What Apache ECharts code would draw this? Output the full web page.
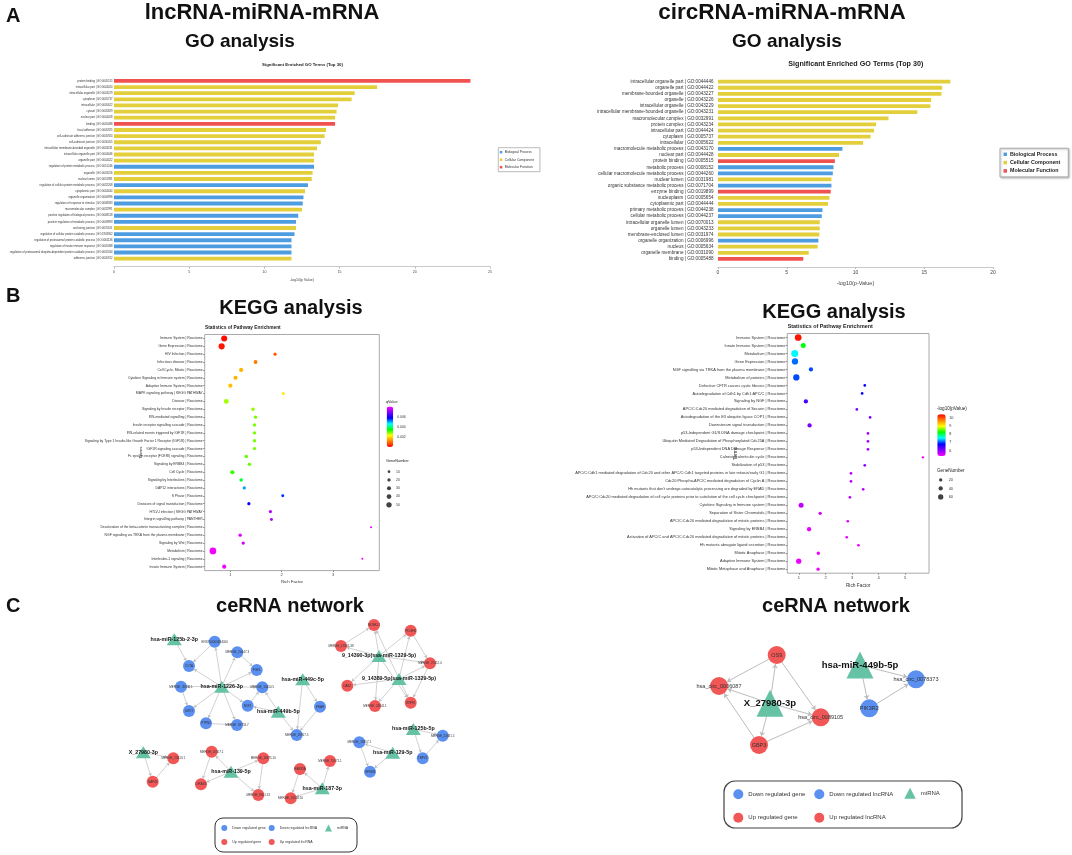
<!DOCTYPE html>
<html><head><meta charset="utf-8">
<script src="https://cdn.jsdelivr.net/npm/echarts@6/dist/echarts.min.js"></script>
<style>html,body{margin:0;padding:0;background:#fff}#c{width:1072px;height:855px}</style>
</head><body><div id="c"></div>
<script>
// ---------------- DATA ----------------
const goLTerms = ['protein binding | GO:0005515','intracellular part | GO:0044424','intracellular organelle | GO:0043229','cytoplasm | GO:0005737','intracellular | GO:0005622','cytosol | GO:0005829','nuclear part | GO:0044428','binding | GO:0005488','focal adhesion | GO:0005925','cell-substrate adherens junction | GO:0005924','cell-substrate junction | GO:0030055','intracellular membrane-bounded organelle | GO:0043231','intracellular organelle part | GO:0044446','organelle part | GO:0044422','regulation of protein metabolic process | GO:0051246','organelle | GO:0043226','nuclear lumen | GO:0031981','regulation of cellular protein metabolic process | GO:0032268','cytoplasmic part | GO:0044444','organelle organization | GO:0006996','regulation of response to stimulus | GO:0048583','macromolecular complex | GO:0032991','positive regulation of biological process | GO:0048518','positive regulation of metabolic process | GO:0009893','anchoring junction | GO:0070161','regulation of cellular protein catabolic process | GO:1903362','regulation of proteasomal protein catabolic process | GO:0061136','regulation of innate immune response | GO:0045088','regulation of proteasomal ubiquitin-dependent protein catabolic process | GO:0032434','adherens junction | GO:0005912'];
const goLValues = [23.7,17.5,16.0,15.8,14.9,14.8,14.7,14.7,14.1,14.0,13.75,13.5,13.3,13.3,13.3,13.2,13.15,12.9,12.7,12.6,12.55,12.5,12.25,12.1,12.1,12.0,11.8,11.8,11.8,11.8];
const goLTypes = ['MF','CC','CC','CC','CC','CC','CC','MF','CC','CC','CC','CC','CC','CC','BP','CC','CC','BP','CC','BP','BP','CC','BP','BP','CC','BP','BP','BP','BP','CC'];

const goRTerms = ['intracellular organelle part | GO:0044446','organelle part | GO:0044422','membrane-bounded organelle | GO:0043227','organelle | GO:0043226','intracellular organelle | GO:0043229','intracellular membrane-bounded organelle | GO:0043231','macromolecular complex | GO:0032991','protein complex | GO:0043234','intracellular part | GO:0044424','cytoplasm | GO:0005737','intracellular | GO:0005622','macromolecule metabolic process | GO:0043170','nuclear part | GO:0044428','protein binding | GO:0005515','metabolic process | GO:0008152','cellular macromolecule metabolic process | GO:0044260','nuclear lumen | GO:0031981','organic substance metabolic process | GO:0071704','enzyme binding | GO:0019899','nucleoplasm | GO:0005654','cytoplasmic part | GO:0044444','primary metabolic process | GO:0044238','cellular metabolic process | GO:0044237','intracellular organelle lumen | GO:0070013','organelle lumen | GO:0043233','membrane-enclosed lumen | GO:0031974','organelle organization | GO:0006996','nucleus | GO:0005634','organelle membrane | GO:0031090','binding | GO:0005488'];
const goRValues = [16.9,16.3,16.25,15.5,15.45,14.5,12.4,11.5,11.35,11.1,10.55,9.05,8.8,8.5,8.4,8.35,8.25,8.25,8.2,8.1,8.0,7.6,7.55,7.4,7.4,7.37,7.3,7.25,6.6,6.2];
const goRTypes = ['CC','CC','CC','CC','CC','CC','CC','CC','CC','CC','CC','BP','CC','MF','BP','BP','CC','BP','MF','CC','CC','BP','BP','CC','CC','CC','BP','CC','CC','MF'];

const keggLTerms = ['Immune System | Reactome','Gene Expression | Reactome','HIV Infection | Reactome','Infectious disease | Reactome','Cell Cycle, Mitotic | Reactome','Cytokine Signaling in Immune system | Reactome','Adaptive Immune System | Reactome','MAPK signaling pathway | KEGG PATHWAY','Disease | Reactome','Signaling by Insulin receptor | Reactome','IRS-mediated signalling | Reactome','Insulin receptor signalling cascade | Reactome','IRS-related events triggered by IGF1R | Reactome','Signaling by Type 1 Insulin-like Growth Factor 1 Receptor (IGF1R) | Reactome','IGF1R signaling cascade | Reactome','Fc epsilon receptor (FCERI) signaling | Reactome','Signaling by ERBB4 | Reactome','Cell Cycle | Reactome','Signaling by Interleukins | Reactome','DAP12 interactions | Reactome','S Phase | Reactome','Diseases of signal transduction | Reactome','HTLV-I infection | KEGG PATHWAY','Integrin signalling pathway | PANTHER','Deactivation of the beta-catenin transactivating complex | Reactome','NGF signalling via TRKA from the plasma membrane | Reactome','Signaling by Wnt | Reactome','Metabolism | Reactome','Interleukin-1 signaling | Reactome','Innate Immune System | Reactome'];
const keggLRich = [0.88,0.83,1.87,1.49,1.21,1.10,1.00,2.03,0.92,1.44,1.49,1.47,1.47,1.47,1.47,1.31,1.37,1.04,1.21,1.27,2.02,1.36,1.78,1.80,3.74,1.19,1.25,0.66,3.57,0.88];
const keggLQ = [0.0001,0.0002,0.0008,0.0011,0.0016,0.0016,0.0017,0.0021,0.0027,0.0028,0.0029,0.0029,0.0029,0.0029,0.0029,0.0030,0.0030,0.0032,0.0037,0.0050,0.0055,0.0058,0.0073,0.0073,0.0078,0.0077,0.0076,0.0079,0.0079,0.0079];
const keggLGenes = [60,62,18,28,32,32,32,15,42,20,20,20,20,20,20,22,20,32,22,18,14,18,18,14,1,20,20,70,1,32];
const keggLRichTicks = [1,2,3];
const qLegendTicks = [0.002,0.004,0.006];
const geneLegendL = [10,20,30,40,50];

const keggRTerms = ['Immune System | Reactome','Innate Immune System | Reactome','Metabolism | Reactome','Gene Expression | Reactome','NGF signalling via TRKA from the plasma membrane | Reactome','Metabolism of proteins | Reactome','Defective CFTR causes cystic fibrosis | Reactome','Autodegradation of Cdh1 by Cdh1:APC/C | Reactome','Signaling by NGF | Reactome','APC/C:Cdc20 mediated degradation of Securin | Reactome','Autodegradation of the E3 ubiquitin ligase COP1 | Reactome','Downstream signal transduction | Reactome','p53-Independent G1/S DNA damage checkpoint | Reactome','Ubiquitin Mediated Degradation of Phosphorylated Cdc25A | Reactome','p53-Independent DNA Damage Response | Reactome','Calnexin/calreticulin cycle | Reactome','Stabilization of p53 | Reactome','APC/C:Cdh1 mediated degradation of Cdc20 and other APC/C:Cdh1 targeted proteins in late mitosis/early G1 | Reactome','Cdc20:Phospho-APC/C mediated degradation of Cyclin A | Reactome',"Hh mutants that don't undergo autocatalytic processing are degraded by ERAD | Reactome",'APC/C:Cdc20 mediated degradation of cell cycle proteins prior to satisfation of the cell cycle checkpoint | Reactome','Cytokine Signaling in Immune system | Reactome','Separation of Sister Chromatids | Reactome','APC/C:Cdc20 mediated degradation of mitotic proteins | Reactome','Signaling by ERBB4 | Reactome','Activation of APC/C and APC/C:Cdc20 mediated degradation of mitotic proteins | Reactome','Hh mutants abrogate ligand secretion | Reactome','Mitotic Anaphase | Reactome','Adaptive Immune System | Reactome','Mitotic Metaphase and Anaphase | Reactome'];
const keggRRich = [0.97,1.16,0.84,0.85,1.45,0.90,3.48,3.38,1.26,3.18,3.68,1.40,3.60,3.60,3.60,5.67,3.48,2.96,2.96,3.42,2.92,1.08,1.80,2.84,1.38,2.80,3.24,1.73,0.99,1.72];
const keggRLogP = [10.3,8.2,7.5,7.1,7.0,7.0,6.75,6.75,6.4,6.1,6.1,6.1,5.9,5.9,5.9,5.4,6.0,5.8,5.8,5.75,5.75,5.7,5.55,5.55,5.5,5.5,5.5,5.45,5.45,5.45];
const keggRGenes = [88,54,94,80,40,80,8,8,40,8,8,40,8,8,8,1,8,8,8,8,8,54,20,8,40,8,8,20,60,20];
const keggRRichTicks = [1,2,3,4,5];
const pLegendTicks = [6,7,8,9,10];
const geneLegendR = [20,40,60];

// network (positions)
const netLNames = ['hsa-miR-125b-2-3p','hsa-miR-1226-3p','hsa-miR-449c-5p','hsa-miR-449b-5p','X_27980-3p','hsa-miR-139-5p','hsa-miR-187-3p','9_14390-3p(ssa-miR-1329-5p)','9_14389-5p(ssa-miR-1329-5p)','hsa-miR-125b-5p','hsa-miR-129-5p','ENST00000484000','MERGE_20447.3','CUTA','PGK1','MERGE_20830.1','MERGE_10450.5','NXF1','LMO7','PTPN2','MERGE_18753.7','ENAH','MERGE_18917.5','MERGE_18957.1','GPM6B','MERGE_24681.5','TRPV2','MERGE_25613.1','GAP43','MERGE_10507.1','MERGE_18475.10','DIRAS3','MERGE_8651.31','RAB33A','MERGE_15971.1','MERGE_25050.10','MOBKL1','MERGE_15941.38','PDGFB','MERGE_27412.4','DAB2','MERGE_24641.1','WIPF2'];
const netLTypes = ['mi','mi','mi','mi','mi','mi','mi','mi','mi','mi','mi','dl','dl','dg','dg','dl','dl','dg','dg','dg','dl','dg','dl','dl','dg','dl','dg','ul','ug','ul','ul','ug','ul','ug','ul','ul','ug','ul','ug','ul','ug','ul','ug'];
const netLX = [174.3,221.7,302.7,278.3,143.3,231,322.3,379,399,413.3,392.7,214.7,237.3,189,256.7,181,262.3,247.7,189,206,237,320,296.7,359.3,370,442.7,422.7,173.3,152.7,211.7,263.3,201,258.3,300,330,290.7,374,341,410.7,430,347.3,375,410.7];
const netLY = [639.3,686.7,679.3,711.7,752.3,771.7,788.3,656,679,729,752.7,641.7,652.3,666,670,686.7,687.3,705.7,711,723.3,725,706.7,735,742.3,771.7,735.7,758.3,758.3,781.7,751.7,758.3,784.3,795,769,761,798.3,625,646,630.7,663.3,685.7,706,702.7];
const netLEdges = [[0,13],[1,11],[1,12],[1,13],[1,14],[1,15],[1,16],[1,17],[1,18],[1,19],[1,20],[11,13],[12,14],[15,18],[19,20],[17,16],[3,17],[3,16],[3,22],[2,21],[2,22],[21,22],[4,27],[4,28],[28,27],[5,29],[5,30],[5,31],[5,32],[29,31],[30,32],[6,33],[6,34],[6,35],[33,35],[7,37],[7,36],[7,38],[7,39],[7,40],[7,41],[7,42],[8,36],[8,38],[8,39],[8,40],[8,41],[8,42],[37,36],[38,39],[39,42],[9,25],[9,26],[26,25],[10,23],[10,24],[23,24]];

const netRNames = ['X_27980-3p','hsa-miR-449b-5p','OS9','hsa_circ_0006087','GBP3','hsa_circ_0089105','hsa_circ_0078373','PIK3R2'];
const netRTypes = ['mi','mi','ug','ul','ug','ul','dl','dg'];
const netRX = [770,860,776.7,719,759,820.7,916,869.3];
const netRY = [703.3,665,655,686,745,717.3,679.3,708.3];
const netREdges = [[0,2],[0,3],[0,4],[0,5],[2,3],[2,5],[4,3],[4,5],[1,6],[1,7],[7,6]];

// ---------------- CHART ----------------
const FONT = 'Liberation Sans, Arial, sans-serif';
const CLR = {BP:'#4d9de0', CC:'#e3cf3b', MF:'#f05252'};
const TYPE_NAME = {BP:'Biological Process', CC:'Cellular Component', MF:'Molecular Function'};
const NET = {dg:'#5b8ff0', dl:'#5b8ff0', mi:'#66c2a5', ug:'#f25757', ul:'#f25757'};
const CAT_NAMES = ['Down regulated gene','Down regulated lncRNA','miRNA','Up regulated gene','Up regulated lncRNA'];
const CAT_KEYS = ['dg','dl','mi','ug','ul'];

function goSeries(types, values, idx, stack, bw){
  return ['BP','CC','MF'].map(k => ({
    type:'bar', name: TYPE_NAME[k], xAxisIndex: idx, yAxisIndex: idx, stack: stack,
    barWidth: bw, itemStyle:{color: CLR[k]}, silent:true,
    data: values.map((v,i) => types[i] === k ? v : '-')
  }));
}
const sizeL = g => 2 + 0.067 * g;
const sizeR = g => 2.3 + 0.05 * g;

function netCategories(circ, tri, fs, mfs){
  return CAT_KEYS.map((k,i) => ({
    name: CAT_NAMES[i], symbol: k === 'mi' ? 'triangle' : 'circle',
    symbolSize: k === 'mi' ? tri : circ,
    itemStyle: {color: NET[k]},
    label: k === 'mi' ? {fontSize: mfs, fontWeight:'bold', color:'#111'} : {fontSize: fs, color:'#333'}
  }));
}
function netSeries(names, types, xs, ys, edges, circ, tri, fs, mfs, lw, asz){
  return {
    type:'graph', coordinateSystem:'cartesian2d', xAxisIndex:8, yAxisIndex:8, layout:'none',
    categories: netCategories(circ, tri, fs, mfs),
    data: names.map((n,i) => ({name:n, value:[xs[i], ys[i]], category: CAT_KEYS.indexOf(types[i])})),
    links: edges.map(e => ({source: names[e[0]], target: names[e[1]]})),
    edgeSymbol:['none','arrow'], edgeSymbolSize:[0, asz],
    lineStyle:{color:'#bdbdbd', width: lw, opacity:1},
    label:{show:true, position:'inside', fontFamily: FONT},
    silent:true
  };
}

const hiddenX = (g, min, max) => ({gridIndex:g, type:'value', min, max, show:false});

const option = {
  animation:false,
  backgroundColor:'#fff',
  textStyle:{fontFamily: FONT},
  grid:[
    {left:114, top:77.9, width:376, height:183.8},
    {left:718, top:78.6, width:275, height:183.4},
    {left:204.7, top:334.5, width:174.6, height:236.1, show:true, borderColor:'#aaa', borderWidth:1},
    {left:787.3, top:333.5, width:141.7, height:239.7, show:true, borderColor:'#aaa', borderWidth:1},
    {left:386.7, top:406.5, width:6.5, height:40.5},
    {left:386, top:467.5, width:6, height:41.5},
    {left:937.3, top:414.3, width:8.4, height:41.7},
    {left:937.7, top:475.7, width:6, height:25.5},
    {left:0, top:0, width:1072, height:855}
  ],
  xAxis:[
    {gridIndex:0, type:'value', min:0, max:25, interval:5, offset:5,
      axisLine:{show:true, lineStyle:{color:'#bbb', width:0.8}}, axisTick:{show:true, length:2, lineStyle:{color:'#bbb'}},
      axisLabel:{fontSize:3.5, color:'#444', margin:3}, splitLine:{show:false},
      name:'-log10(p Value)', nameLocation:'middle', nameGap:11, nameMoveOverlap:false, nameTextStyle:{fontSize:3.5, color:'#444'}},
    {gridIndex:1, type:'value', min:0, max:20, interval:5, offset:5,
      axisLine:{show:true, lineStyle:{color:'#bbb', width:0.8}}, axisTick:{show:true, length:2, lineStyle:{color:'#bbb'}},
      axisLabel:{fontSize:5, color:'#444', margin:3}, splitLine:{show:false},
      name:'-log10(p-Value)', nameLocation:'middle', nameGap:13, nameMoveOverlap:false, nameTextStyle:{fontSize:5.5, color:'#444'}},
    {gridIndex:2, type:'value', min:0.5, max:3.9,
      axisLine:{show:false}, axisTick:{show:true, length:1.5, customValues:keggLRichTicks, lineStyle:{color:'#888'}},
      axisLabel:{fontSize:4, color:'#444', margin:2.5, customValues:keggLRichTicks}, splitLine:{show:false},
      name:'Rich Factor', nameLocation:'middle', nameGap:9, nameMoveOverlap:false, nameTextStyle:{fontSize:4.3, color:'#333'}},
    {gridIndex:3, type:'value', min:0.56, max:5.9,
      axisLine:{show:false}, axisTick:{show:true, length:1.5, customValues:keggRRichTicks, lineStyle:{color:'#888'}},
      axisLabel:{fontSize:4, color:'#444', margin:2.5, customValues:keggRRichTicks}, splitLine:{show:false},
      name:'Rich Factor', nameLocation:'middle', nameGap:10, nameMoveOverlap:false, nameTextStyle:{fontSize:4.8, color:'#333'}},
    hiddenX(4,0,1), hiddenX(5,0,1), hiddenX(6,0,1), hiddenX(7,0,1),
    hiddenX(8,0,1072)
  ],
  yAxis:[
    {gridIndex:0, type:'category', data:goLTerms, inverse:true, axisLine:{show:false}, axisTick:{show:false},
      axisLabel:{interval:0, fontSize:2.7, color:'#333', margin:1.5}},
    {gridIndex:1, type:'category', data:goRTerms, inverse:true, axisLine:{show:false}, axisTick:{show:false},
      axisLabel:{interval:0, fontSize:4.6, color:'#333', margin:4.5}},
    {gridIndex:2, type:'category', data:keggLTerms, inverse:true, axisLine:{show:false},
      axisTick:{show:true, length:1.5, alignWithLabel:true, interval:0, lineStyle:{color:'#888'}},
      axisLabel:{interval:0, fontSize:3.4, color:'#333', margin:2},
      name:'Terms', nameLocation:'middle', nameGap:62, nameRotate:90, nameMoveOverlap:false, nameTextStyle:{fontSize:4.3, color:'#333'}},
    {gridIndex:3, type:'category', data:keggRTerms, inverse:true, axisLine:{show:false},
      axisTick:{show:true, length:1.5, alignWithLabel:true, interval:0, lineStyle:{color:'#888'}},
      axisLabel:{interval:0, fontSize:3.9, color:'#333', margin:2},
      name:'Terms', nameLocation:'middle', nameGap:49, nameRotate:90, nameMoveOverlap:false, nameTextStyle:{fontSize:4.8, color:'#333'}},
    {gridIndex:4, type:'value', min:0, max:0.008, position:'right', axisLine:{show:false}, axisTick:{show:false}, splitLine:{show:false},
      axisLabel:{fontSize:3.4, color:'#333', margin:4, customValues:qLegendTicks, formatter: v => v.toFixed(3)}},
    {gridIndex:5, type:'category', data:geneLegendL.map(String), inverse:true, position:'right', axisLine:{show:false}, axisTick:{show:false},
      axisLabel:{fontSize:3.4, color:'#333', margin:4}},
    {gridIndex:6, type:'value', min:5.35, max:10.4, position:'right', axisLine:{show:false}, axisTick:{show:false}, splitLine:{show:false},
      axisLabel:{fontSize:3.8, color:'#333', margin:3.5, customValues:pLegendTicks}},
    {gridIndex:7, type:'category', data:geneLegendR.map(String), inverse:true, position:'right', axisLine:{show:false}, axisTick:{show:false},
      axisLabel:{fontSize:3.8, color:'#333', margin:5}},
    {gridIndex:8, type:'value', min:0, max:855, inverse:true, show:false}
  ],
  visualMap:[
    {type:'continuous', seriesIndex:6, dimension:2, min:0, max:0.008, calculable:false, show:true,
      left:386.7, top:406.5, itemWidth:6.5, itemHeight:40.5, padding:0, text:null,
      inRange:{color:['#ff0000','#ff8000','#ffff00','#00ff00','#00ffff','#0000ff','#8000ff','#ff00ff']}},
    {type:'continuous', seriesIndex:7, dimension:2, min:5.35, max:10.4, calculable:false, show:true,
      left:937.3, top:414.3, itemWidth:8.4, itemHeight:41.7, padding:0, text:null,
      inRange:{color:['#ff00ff','#8000ff','#0000ff','#00ffff','#00ff00','#ffff00','#ff8000','#ff0000']}}
  ],
  legend:[
    {data:['Biological Process','Cellular Component','Molecular Function'], orient:'vertical', left:498.3, top:147.7,
      itemWidth:2.5, itemHeight:2.5, itemGap:4.5, icon:'rect', padding:[3,6,3,1.5], borderColor:'#aaa', borderWidth:0.8,
      textStyle:{fontSize:3.3, color:'#333', padding:[0,0,0,-2.5]}, selectedMode:false},
    {data:['Biological Process','Cellular Component','Molecular Function'], orient:'vertical', left:1000, top:148.3,
      itemWidth:3.5, itemHeight:3.5, itemGap:3.3, icon:'rect', padding:[3.5,8,3.5,3.5], borderColor:'#aaa', borderWidth:1,
      shadowColor:'rgba(0,0,0,0.25)', shadowBlur:2, shadowOffsetX:1, shadowOffsetY:1, backgroundColor:'#fff',
      textStyle:{fontSize:5.3, fontWeight:'bold', color:'#222', padding:[0,0,0,-2]}, selectedMode:false},
    {data:[{name:'Down regulated gene', icon:'circle'}], left:221.3, top:825, itemWidth:6, itemHeight:6, padding:0, selectedMode:false, textStyle:{fontSize:3.5, color:'#333'}},
    {data:[{name:'Down regulated lncRNA', icon:'circle'}], left:268.7, top:825, itemWidth:6, itemHeight:6, padding:0, selectedMode:false, textStyle:{fontSize:3.5, color:'#333'}},
    {data:[{name:'miRNA', icon:'triangle'}], left:325, top:824.5, itemWidth:7, itemHeight:7, padding:0, selectedMode:false, textStyle:{fontSize:3.5, color:'#333'}},
    {data:[{name:'Up regulated gene', icon:'circle'}], left:221.3, top:839, itemWidth:6, itemHeight:6, padding:0, selectedMode:false, textStyle:{fontSize:3.5, color:'#333'}},
    {data:[{name:'Up regulated lncRNA', icon:'circle'}], left:268.7, top:839, itemWidth:6, itemHeight:6, padding:0, selectedMode:false, textStyle:{fontSize:3.5, color:'#333'}},
    {data:[{name:'Down regulated gene', icon:'circle'}], left:733.3, top:789.3, itemWidth:10, itemHeight:10, padding:0, selectedMode:false, textStyle:{fontSize:6, color:'#333'}},
    {data:[{name:'Down regulated lncRNA', icon:'circle'}], left:814.3, top:789.3, itemWidth:10, itemHeight:10, padding:0, selectedMode:false, textStyle:{fontSize:6, color:'#333'}},
    {data:[{name:'miRNA', icon:'triangle'}], left:904.3, top:787.8, itemWidth:11.5, itemHeight:11, padding:0, selectedMode:false, textStyle:{fontSize:6, color:'#333'}},
    {data:[{name:'Up regulated gene', icon:'circle'}], left:733.3, top:812.7, itemWidth:10, itemHeight:10, padding:0, selectedMode:false, textStyle:{fontSize:6, color:'#333'}},
    {data:[{name:'Up regulated lncRNA', icon:'circle'}], left:814.3, top:812.7, itemWidth:10, itemHeight:10, padding:0, selectedMode:false, textStyle:{fontSize:6, color:'#333'}}
  ],
  series:[
    ...goSeries(goLTypes, goLValues, 0, 'goL', '62%'),
    ...goSeries(goRTypes, goRValues, 1, 'goR', '62%'),
    {type:'scatter', name:'keggL', xAxisIndex:2, yAxisIndex:2, silent:true,
      data: keggLRich.map((r,i) => [r, i, keggLQ[i], keggLGenes[i]]),
      symbolSize: v => sizeL(v[3]), itemStyle:{opacity:1}},
    {type:'scatter', name:'keggR', xAxisIndex:3, yAxisIndex:3, silent:true,
      data: keggRRich.map((r,i) => [r, i, keggRLogP[i], keggRGenes[i]]),
      symbolSize: v => sizeR(v[3]), itemStyle:{opacity:1}},
    {type:'scatter', name:'geneL', xAxisIndex:5, yAxisIndex:5, silent:true,
      data: geneLegendL.map((g,i) => [0.5, i, g]), symbolSize: v => sizeL(v[2]), itemStyle:{color:'#111'}},
    {type:'scatter', name:'geneR', xAxisIndex:7, yAxisIndex:7, silent:true,
      data: geneLegendR.map((g,i) => [0.5, i, g]), symbolSize: v => sizeR(v[2]), itemStyle:{color:'#111'}},
    netSeries(netLNames, netLTypes, netLX, netLY, netLEdges, 12, [15,12], 3.0, 5.3, 0.7, 3),
    netSeries(netRNames, netRTypes, netRX, netRY, netREdges, 18, [27,27], 5.5, 9.5, 1, 4.5)
  ],
  graphic:[
    {type:'text', left:6, top:6, style:{text:'A', font:'bold 20px '+FONT, fill:'#111'}},
    {type:'text', left:6, top:286, style:{text:'B', font:'bold 20px '+FONT, fill:'#111'}},
    {type:'text', left:6, top:596, style:{text:'C', font:'bold 20px '+FONT, fill:'#111'}},
    {type:'text', x:262, y:13, style:{text:'lncRNA-miRNA-mRNA', font:'bold 22px '+FONT, fill:'#111', textAlign:'center', textVerticalAlign:'middle'}},
    {type:'text', x:782, y:13, style:{text:'circRNA-miRNA-mRNA', font:'bold 22.5px '+FONT, fill:'#111', textAlign:'center', textVerticalAlign:'middle'}},
    {type:'text', x:240, y:42, style:{text:'GO analysis', font:'bold 19px '+FONT, fill:'#111', textAlign:'center', textVerticalAlign:'middle'}},
    {type:'text', x:787, y:42, style:{text:'GO analysis', font:'bold 19px '+FONT, fill:'#111', textAlign:'center', textVerticalAlign:'middle'}},
    {type:'text', x:302.5, y:65, style:{text:'Significant Enriched GO Terms (Top 30)', font:'bold 4.3px '+FONT, fill:'#222', textAlign:'center', textVerticalAlign:'middle'}},
    {type:'text', x:855.8, y:64.3, style:{text:'Significant Enriched GO Terms (Top 30)', font:'bold 7.2px '+FONT, fill:'#222', textAlign:'center', textVerticalAlign:'middle'}},
    {type:'text', x:291, y:308, style:{text:'KEGG analysis', font:'bold 20px '+FONT, fill:'#111', textAlign:'center', textVerticalAlign:'middle'}},
    {type:'text', x:834, y:312, style:{text:'KEGG analysis', font:'bold 20px '+FONT, fill:'#111', textAlign:'center', textVerticalAlign:'middle'}},
    {type:'text', x:205, y:328, style:{text:'Statistics of Pathway Enrichment', font:'bold 4.8px '+FONT, fill:'#222', textVerticalAlign:'middle'}},
    {type:'text', x:787.7, y:327, style:{text:'Statistics of Pathway Enrichment', font:'bold 5.4px '+FONT, fill:'#222', textVerticalAlign:'middle'}},
    {type:'text', x:386, y:401.7, style:{text:'qValue', font:'3.8px '+FONT, fill:'#222', textVerticalAlign:'middle'}},
    {type:'text', x:386, y:461, style:{text:'GeneNumber', font:'3.8px '+FONT, fill:'#222', textVerticalAlign:'middle'}},
    {type:'text', x:937, y:409, style:{text:'-log10(pValue)', font:'4.6px '+FONT, fill:'#222', textVerticalAlign:'middle'}},
    {type:'text', x:937, y:470.7, style:{text:'GeneNumber', font:'4.6px '+FONT, fill:'#222', textVerticalAlign:'middle'}},
    {type:'text', x:290, y:606, style:{text:'ceRNA network', font:'bold 20px '+FONT, fill:'#111', textAlign:'center', textVerticalAlign:'middle'}},
    {type:'text', x:836, y:606, style:{text:'ceRNA network', font:'bold 20px '+FONT, fill:'#111', textAlign:'center', textVerticalAlign:'middle'}},
    {type:'rect', shape:{x:215, y:818, width:142, height:34, r:8}, style:{fill:'none', stroke:'#333', lineWidth:1}, z:-1},
    {type:'rect', shape:{x:724, y:781, width:238, height:47, r:11}, style:{fill:'none', stroke:'#444', lineWidth:1.2}, z:-1}
  ]
};
const chart = echarts.init(document.getElementById('c'), null, {renderer:'canvas'});
chart.setOption(option);
</script>
</body></html>
